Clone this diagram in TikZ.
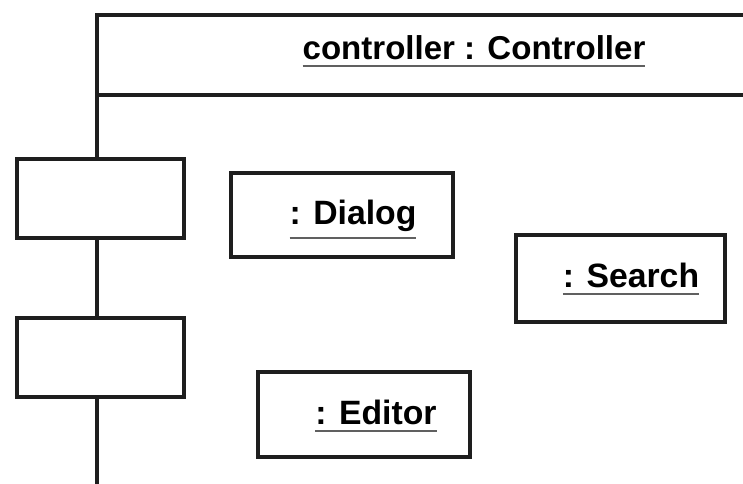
\documentclass[tikz,border=0pt]{standalone}
\usepackage{fontspec}
\setmainfont{Liberation Sans}
\usetikzlibrary{positioning}
\definecolor{inkgray}{HTML}{1E1E1E}
\definecolor{rulegray}{HTML}{606060}
\newsavebox{\ulbox}
\newcommand{\ulined}[1]{%
    \sbox{\ulbox}{#1}%
    \rlap{\usebox{\ulbox}}%
    \textcolor{rulegray}{\rule[-\dimexpr\dp\ulbox+5pt\relax]{\wd\ulbox}{1.5pt}}%
}
\tikzstyle{frameline} = [
    draw=inkgray,
    line width=2.2pt
]
\tikzstyle{objbox} = [
    rectangle,
    draw=inkgray,
    line width=2.2pt,
    fill=white
]
\tikzstyle{portbox} = [
    objbox,
    minimum width=4.175cm,
    minimum height=1.975cm
]
\tikzstyle{objlabel} = [
    inner sep=0pt,
    anchor=base,
    text=black,
    font=\fontsize{24}{28}\selectfont\bfseries
]
\tikzstyle{titlelabel} = [
    objlabel,
    font=\fontsize{23.5}{28}\selectfont\bfseries
]

\begin{document}
\begin{tikzpicture}[x=0.025cm, y=-0.025cm]

\useasboundingbox (0,0) rectangle (743,484);

% frame of the composite
\draw [frameline] (97,520) |- (790,15);
\draw [frameline] (97,95) -- (790,95);

\node (title) [titlelabel] at (474,60) {\ulined{controller : Controller}};

% ports on the frame
\node (porttop) [portbox] at (100.5,198.5) {};
\node (portbottom) [portbox] at (100.5,357.5) {};

% parts
\node (dialog) [objbox, minimum width=5.55cm, minimum height=2.1cm]
at (342,215) {};
\node (search) [objbox, minimum width=5.225cm, minimum height=2.175cm]
at (620.5,278.5) {};
\node (editor) [objbox, minimum width=5.3cm, minimum height=2.125cm]
at (364,414.5) {};

\node (dialoglabel) [objlabel] at (353,225) {\ulined{: Dialog}};
\node (searchlabel) [objlabel] at (631,288) {\ulined{: Search}};
\node (editorlabel) [objlabel] at (376,425) {\ulined{: Editor}};

\end{tikzpicture}
\end{document}
